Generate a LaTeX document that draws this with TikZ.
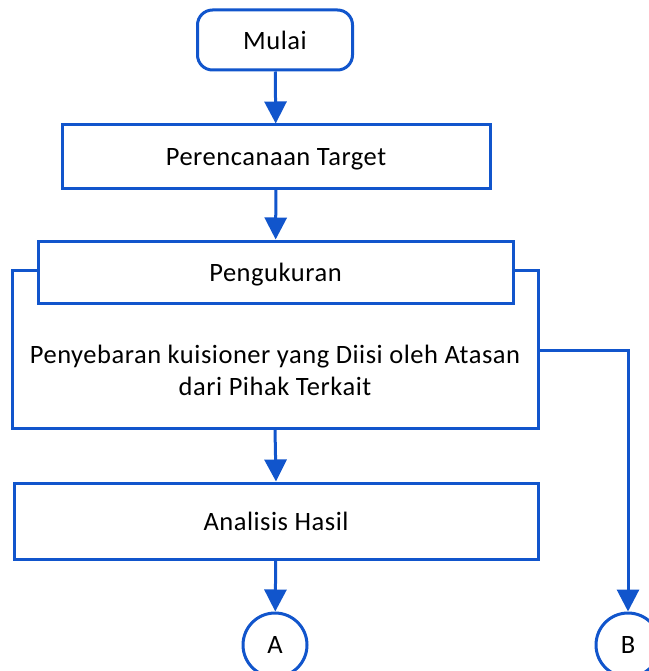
\documentclass[tikz,border=0pt]{standalone}
\usepackage{fontspec}
\setmainfont{Carlito}[LetterSpace=2]
\usetikzlibrary{arrows.meta}
\definecolor{flowblue}{RGB}{17,85,204}
\begin{document}
\begin{tikzpicture}[x=1pt,y=-1pt,
  every node/.style={font=\fontsize{26.5}{32}\selectfont},
  box/.style={draw=flowblue,line width=3pt,fill=white,minimum height=#1,inner sep=0pt,text depth=0pt},
  conn/.style={draw=flowblue,line width=3pt},
  flow/.style={conn,-{Triangle[width=22pt,length=22pt]}},
  connector/.style={draw=flowblue,line width=3pt,circle,minimum size=64pt,inner sep=0pt,fill=white}]
\useasboundingbox (0,0) rectangle (648,671);
\node[box=60pt,rounded corners=15pt,minimum width=155pt] (start) at (275,40) {Mulai};
\node[box=63pt,minimum width=428pt] (plan) at (276,156.5) {Perencanaan Target};
\node[draw=flowblue,line width=3pt,minimum width=526pt,minimum height=158pt,inner sep=0pt] (outer) at (275,349) {};
\node[box=62pt,minimum width=475pt] (measure) at (275.5,272) {Pengukuran};
\node[align=center] (survey) at (275,370) {Penyebaran kuisioner yang Diisi oleh Atasan\\dari Pihak Terkait};
\node[box=76pt,minimum width=524pt] (analysis) at (276,521) {Analisis Hasil};
\node[connector] (A) at (275,645) {A};
\node[connector] (B) at (628,645) {B};
\coordinate (bend) at (628,350);
\draw[flow] (start) -- (plan);
\draw[flow] (plan) -- (measure);
\draw[flow] (outer.south) -- (analysis.north);
\draw[flow] (analysis) -- (A);
\draw[flow] (outer.east |- bend) -- (bend) -- (B);
\end{tikzpicture}
\end{document}
